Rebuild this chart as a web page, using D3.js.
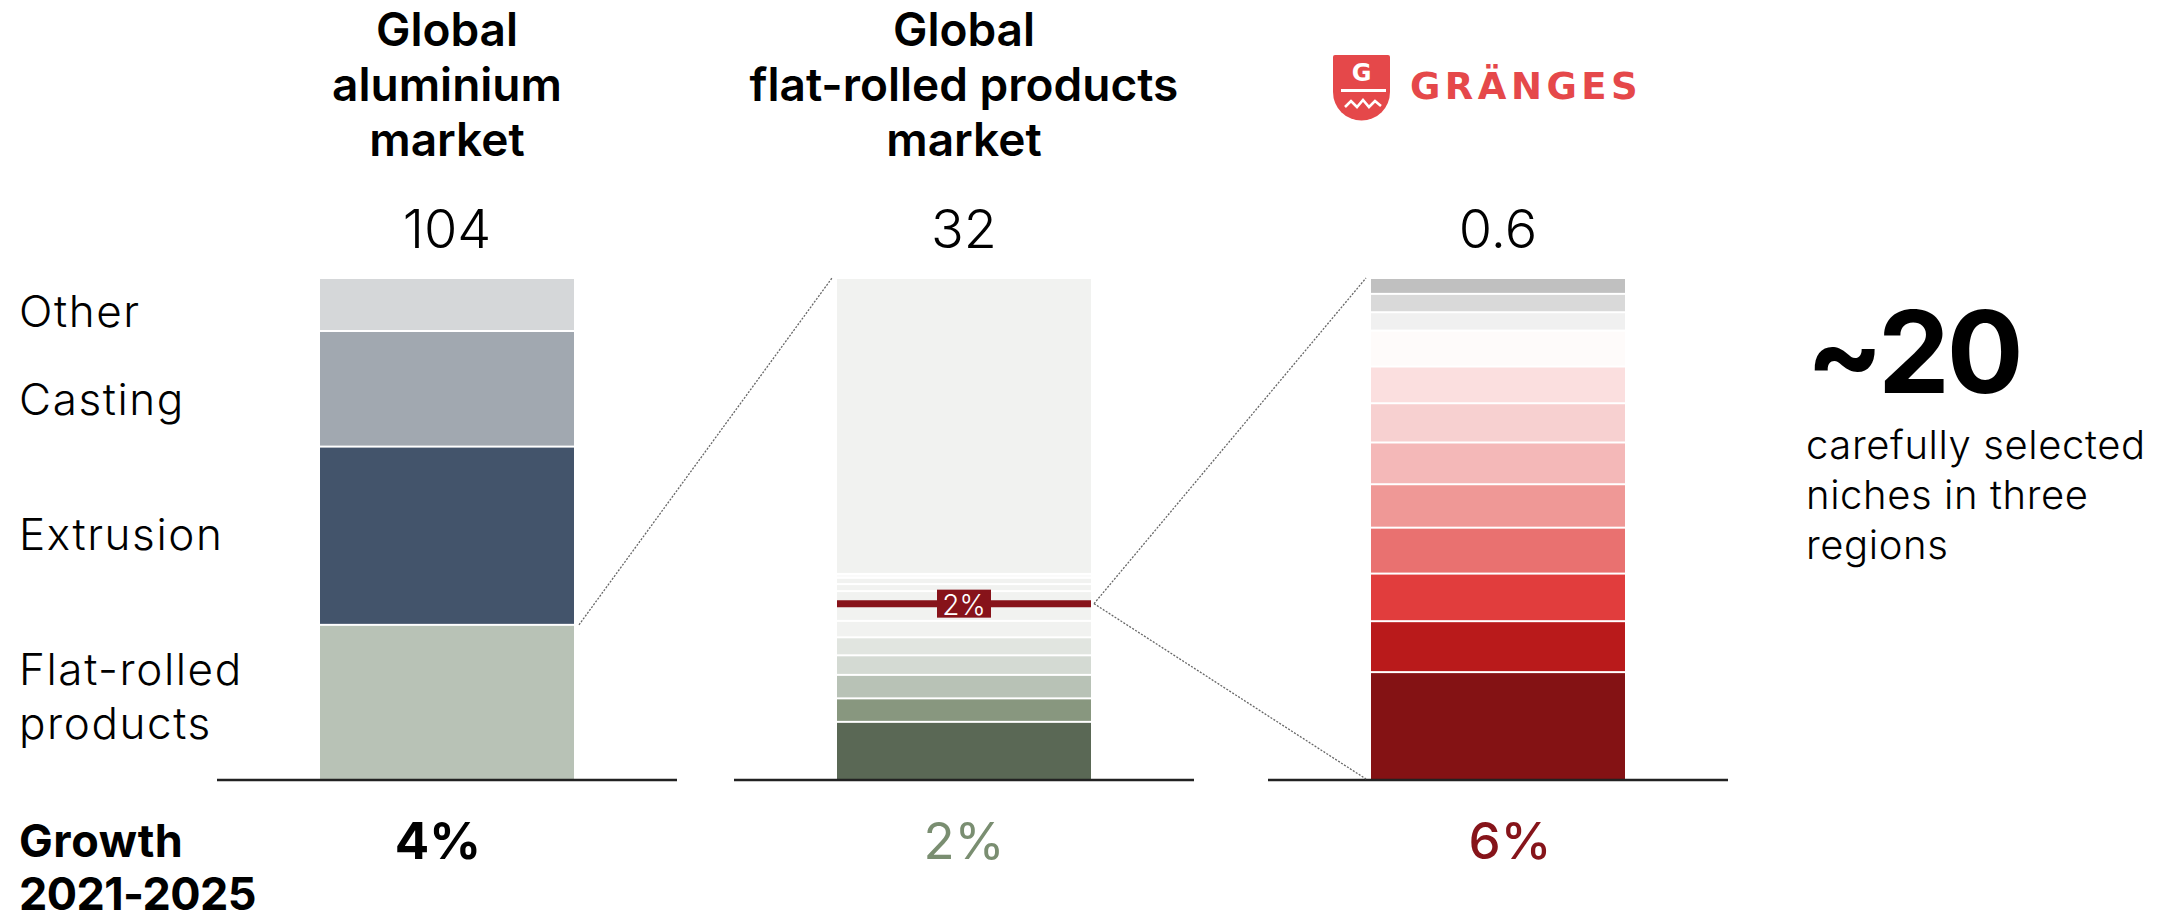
<!DOCTYPE html>
<html>
<head>
<meta charset="utf-8">
<script src="https://cdn.jsdelivr.net/npm/d3@7"></script>
<style>
  body { margin: 0; background: #fff; }
  svg { display: block; font-family: Inter, "Noto Sans", sans-serif; }
</style>
</head>
<body>
<div id="chart"></div>
<script>
// --- data ---
const markets = ["aluminium", "frp", "granges"];
const titleLines = [
  ["Global", "aluminium", "market"],
  ["Global", "flat-rolled products", "market"]
];
const totals = [104, 32, 0.6];
const totalLabels = ["104", "32", "0.6"];
const growth = ["4%", "2%", "6%"];

// global aluminium market, bottom to top
const aluminiumSegments = ["Flat-rolled products", "Extrusion", "Casting", "Other"];
const aluminiumValues = [32, 37, 24, 11];

// global flat-rolled products market, bottom to top
const frpValues = [3.65, 1.5, 1.5, 1.25, 1.15, 1.05, 1.9, 0.45, 0.4, 0.25, 18.9];
const grangesPosition = 11.2;
const grangesShare = "2%";

// Gränges niches, bottom to top
const grangesValues = [0.128, 0.061, 0.057, 0.055, 0.052, 0.05, 0.047, 0.044, 0.043, 0.022, 0.022, 0.019];

const nichesCount = "~20";
const nichesText = ["carefully selected", "niches in three", "regions"];
const growthLabel = ["Growth", "2021-2025"];

// --- styling ---
const aluminiumColors = ["#b8c2b6", "#43546b", "#a1a8b0", "#d5d7d9"];
const frpColors = ["#5a6855", "#88977f", "#b8c2b6", "#d4dad3", "#e1e5e0", "#f1f2f0",
  "#f1f2f0", "#f1f2f0", "#f1f2f0", "#fafafa", "#f1f2f0"];
const grangesColors = ["#841214", "#b91a1b", "#e13d3d", "#e97170", "#ef9896", "#f4b8b8",
  "#f7d0d0", "#fbdfdf", "#fefbfa", "#f0f0f0", "#d9d9d9", "#c0c0c0"];
const growthColors = ["#000", "#7a8e71", "#86141a"];
const growthWeights = [700, 400, 450];
const growthShift = [-9, 0, 12];
const red = "#e5484a";

const width = 2162, height = 920;
const baseY = 779, topY = 278;
const barWidth = 254;

const svg = d3.select("#chart").append("svg")
  .attr("width", width).attr("height", height);

// bar positions
const x = d3.scaleOrdinal().domain(markets).range([320, 837, 1371]);
const yScales = markets.map((m, i) =>
  d3.scaleLinear().domain([0, totals[i]]).range([baseY, topY]));

function drawStack(market, values, colors) {
  const i = markets.indexOf(market);
  const y = yScales[i];
  const ends = Array.from(d3.cumsum(values));
  const starts = [0, ...ends.slice(0, -1)];
  svg.append("g").selectAll("rect")
    .data(values)
    .join("rect")
    .attr("x", x(market))
    .attr("width", barWidth)
    .attr("y", (d, j) => y(ends[j]) + 1)
    .attr("height", (d, j) => y(starts[j]) - y(ends[j]) - (j === 0 ? 1 : 2))
    .attr("fill", (d, j) => colors[j]);
}

drawStack("aluminium", aluminiumValues, aluminiumColors);
drawStack("frp", frpValues, frpColors);
drawStack("granges", grangesValues, grangesColors);

// baselines
svg.append("g").selectAll("line")
  .data(markets)
  .join("line")
  .attr("x1", d => x(d) - 103)
  .attr("x2", d => x(d) + barWidth + 103)
  .attr("y1", baseY + 1).attr("y2", baseY + 1)
  .attr("stroke", "#222").attr("stroke-width", 2.5);

// dotted connectors
const connectors = [
  [x("aluminium") + barWidth + 5, yScales[0](aluminiumValues[0]), x("frp") - 5, yScales[1](totals[1])],
  [x("frp") + barWidth + 3, yScales[1](grangesPosition), x("granges") - 5, yScales[2](totals[2])],
  [x("frp") + barWidth + 3, yScales[1](grangesPosition), x("granges") - 5, yScales[2](0)]
];
svg.append("g").selectAll("line")
  .data(connectors)
  .join("line")
  .attr("x1", d => d[0]).attr("y1", d => d[1])
  .attr("x2", d => d[2]).attr("y2", d => d[3])
  .attr("stroke", "#666").attr("stroke-width", 1.3)
  .attr("stroke-dasharray", "2,1.5");

// Gränges marker in the FRP bar
const ym = yScales[1](grangesPosition);
svg.append("line")
  .attr("x1", x("frp")).attr("x2", x("frp") + barWidth)
  .attr("y1", ym).attr("y2", ym)
  .attr("stroke", "#87131a").attr("stroke-width", 7);
svg.append("rect")
  .attr("x", x("frp") + barWidth / 2 - 27).attr("y", ym - 14)
  .attr("width", 54).attr("height", 28)
  .attr("fill", "#87131a");
svg.append("text")
  .attr("x", x("frp") + barWidth / 2).attr("y", ym + 11)
  .attr("text-anchor", "middle")
  .attr("fill", "#fff").attr("font-size", 28).attr("font-weight", 300)
  .text(grangesShare);

// titles
titleLines.forEach((lines, i) => {
  svg.append("text")
    .attr("text-anchor", "middle")
    .attr("font-size", 46).attr("font-weight", 600)
    .selectAll("tspan")
    .data(lines)
    .join("tspan")
    .attr("x", x(markets[i]) + barWidth / 2)
    .attr("y", (d, j) => 46 + j * 55)
    .text(d => d);
});

// totals
svg.append("g").selectAll("text")
  .data(totalLabels)
  .join("text")
  .attr("x", (d, i) => x(markets[i]) + barWidth / 2)
  .attr("y", 248)
  .attr("text-anchor", "middle")
  .attr("font-size", 54).attr("font-weight", 300)
  .text(d => d);

// segment labels on the left
const labelY = [[685, 739], [550], [415], [327]];
aluminiumSegments.forEach((name, i) => {
  const words = i === 0 ? ["Flat-rolled", "products"] : [name];
  svg.append("text")
    .attr("font-size", 44).attr("font-weight", 300)
    .attr("letter-spacing", 1.6)
    .selectAll("tspan")
    .data(words)
    .join("tspan")
    .attr("x", 19)
    .attr("y", (d, j) => labelY[i][j])
    .text(d => d);
});

// growth row
svg.append("text")
  .attr("font-size", 45).attr("font-weight", 700)
  .attr("letter-spacing", 0.4)
  .selectAll("tspan")
  .data(growthLabel)
  .join("tspan")
  .attr("x", 19)
  .attr("y", (d, j) => 857 + j * 53)
  .attr("letter-spacing", (d, j) => j === 1 ? -0.6 : 0.6)
  .text(d => d);

svg.append("g").selectAll("text")
  .data(growth)
  .join("text")
  .attr("x", (d, i) => x(markets[i]) + barWidth / 2 + growthShift[i])
  .attr("y", 859)
  .attr("text-anchor", "middle")
  .attr("font-size", 51)
  .attr("font-weight", (d, i) => growthWeights[i])
  .attr("fill", (d, i) => growthColors[i])
  .text(d => d);

// niches note
svg.append("text")
  .attr("x", 1806).attr("y", 393)
  .attr("font-size", 114).attr("font-weight", 700)
  .attr("letter-spacing", -3)
  .text(nichesCount);
svg.append("text")
  .attr("font-size", 40).attr("font-weight", 300)
  .attr("letter-spacing", 0.6)
  .selectAll("tspan")
  .data(nichesText)
  .join("tspan")
  .attr("x", 1806)
  .attr("y", (d, j) => 459 + j * 50)
  .text(d => d);

// Gränges logo
const logo = svg.append("g").attr("transform", "translate(1333,55)");
logo.append("path")
  .attr("d", "M2,0 H55 Q57,0 57,2 V37 A28.5,28.5 0 0 1 0,37 V2 Q0,0 2,0 Z")
  .attr("fill", red);
logo.append("text")
  .attr("x", 28.5).attr("y", 26)
  .attr("text-anchor", "middle")
  .attr("fill", "#fff").attr("font-size", 24).attr("font-weight", 700)
  .attr("font-family", "DejaVu Sans")
  .text("G");
logo.append("line")
  .attr("x1", 8).attr("x2", 53).attr("y1", 35.5).attr("y2", 35.5)
  .attr("stroke", "#fff").attr("stroke-width", 3);
logo.append("path")
  .attr("d", "M12,52 L18,46 L24,52 L30,45 L36,52 L42,46 L48,51")
  .attr("fill", "none").attr("stroke", "#fff").attr("stroke-width", 2.6);
svg.append("text")
  .attr("x", 1410).attr("y", 99)
  .attr("fill", red)
  .attr("font-family", "DejaVu Sans")
  .attr("font-weight", 700)
  .attr("font-size", 37)
  .attr("letter-spacing", 4.5)
  .text("GRÄNGES");
</script>
</body>
</html>
